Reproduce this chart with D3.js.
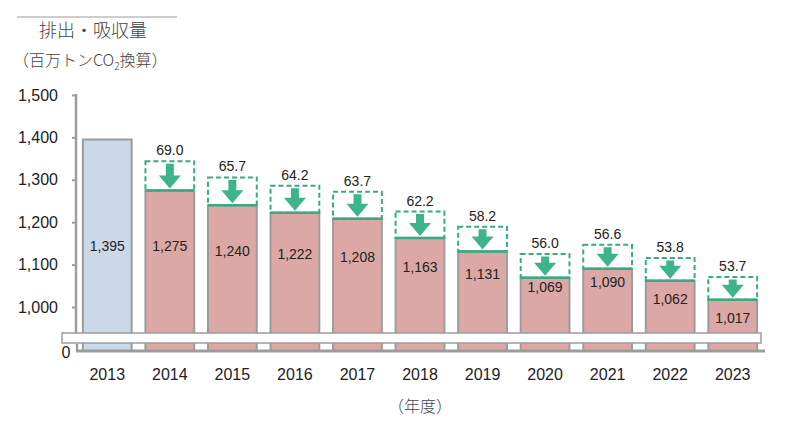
<!DOCTYPE html>
<html>
<head>
<meta charset="utf-8">
<script src="https://cdn.jsdelivr.net/npm/d3@7"></script>
<style>
    body { margin: 0; background: #fff; }
    svg text { font-family: "Liberation Sans", "Noto Sans CJK JP", sans-serif; fill: #222; }
    .jp { font-family: "Noto Sans CJK JP", sans-serif; font-weight: 300; fill: #444; }
</style>
</head>
<body>
<script>
const years = ["2013", "2014", "2015", "2016", "2017", "2018", "2019", "2020", "2021", "2022", "2023"]
const emissions = [1395, 1275, 1240, 1222, 1208, 1163, 1131, 1069, 1090, 1062, 1017]
const reductions = [null, 69.0, 65.7, 64.2, 63.7, 62.2, 58.2, 56.0, 56.6, 53.8, 53.7]
const yTicks = [1000, 1100, 1200, 1300, 1400, 1500]

const WIDTH = 787
const HEIGHT = 421

const ZERO_Y = 351
const BREAK = { top: 333, bottom: 343 }

const GREEN = "#3aaa82"
const GREY = "#9c9c9c"

const svg = d3.select("body")
    .append("svg")
    .attr("width", WIDTH)
    .attr("height", HEIGHT)

const xScale = d3.scaleBand()
    .domain(years)
    .range([76, 764])
    .paddingInner(0.22)
    .paddingOuter(0.11)

const yScale = d3.scaleLinear()
    .domain([1000, 1500])
    .range([307, 95])

const data = years.map((y, i) => ({ year: y, value: emissions[i], cut: reductions[i] }))

// title block
svg.append("line")
    .attr("x1", 17).attr("x2", 177)
    .attr("y1", 17).attr("y2", 17)
    .attr("stroke", "#bdbdbd")
    .attr("stroke-width", 1.5)

svg.append("text")
    .attr("class", "jp")
    .attr("x", 39)
    .attr("y", 37)
    .style("font-size", "18px")
    .text("排出・吸収量")

const sub = svg.append("text")
    .attr("class", "jp")
    .attr("x", 13)
    .attr("y", 66)
    .style("font-size", "16px")
sub.append("tspan").text("（百万トンCO")
sub.append("tspan").attr("dy", 4).style("font-size", "10px").text("2")
sub.append("tspan").attr("dy", -4).text("換算）")

// bars
svg.selectAll("rect.bar")
    .data(data)
    .enter()
    .append("rect")
    .attr("class", "bar")
    .attr("x", d => xScale(d.year))
    .attr("y", d => yScale(d.value))
    .attr("width", xScale.bandwidth())
    .attr("height", d => ZERO_Y - yScale(d.value))
    .attr("fill", (d, i) => i === 0 ? "#cbd8e8" : "#dca8a5")
    .attr("stroke", GREY)
    .attr("stroke-width", 2)

// bar value labels
svg.selectAll("text.val")
    .data(data)
    .enter()
    .append("text")
    .attr("class", "val")
    .attr("x", d => xScale(d.year) + xScale.bandwidth() / 2)
    .attr("y", d => {
        const top = yScale(d.value)
        let y = Math.max((top + 296) / 2, 246)
        if (y < top + 8) y = top + 18
        return y
    })
    .attr("dy", "0.35em")
    .attr("text-anchor", "middle")
    .style("font-size", "14px")
    .text(d => d3.format(",")(d.value))

// reduction boxes
const cuts = data.filter(d => d.cut !== null)

svg.selectAll("rect.cut")
    .data(cuts)
    .enter()
    .append("rect")
    .attr("class", "cut")
    .attr("x", d => xScale(d.year))
    .attr("y", d => yScale(d.value + d.cut))
    .attr("width", xScale.bandwidth())
    .attr("height", d => yScale(d.value) - yScale(d.value + d.cut))
    .attr("fill", "none")
    .attr("stroke", GREEN)
    .attr("stroke-width", 2)
    .attr("stroke-dasharray", "5,3")

svg.selectAll("line.cutbase")
    .data(cuts)
    .enter()
    .append("line")
    .attr("class", "cutbase")
    .attr("x1", d => xScale(d.year))
    .attr("x2", d => xScale(d.year) + xScale.bandwidth())
    .attr("y1", d => yScale(d.value))
    .attr("y2", d => yScale(d.value))
    .attr("stroke", GREEN)
    .attr("stroke-width", 2.5)

// arrows
svg.selectAll("path.arrow")
    .data(cuts)
    .enter()
    .append("path")
    .attr("class", "arrow")
    .attr("fill", "#3db489")
    .attr("d", d => {
        const cx = xScale(d.year) + xScale.bandwidth() / 2
        const top = yScale(d.value + d.cut) + 2.5
        const tip = yScale(d.value) - 2
        const headTop = tip - 13
        const sw = 4, hw = 11
        return "M" + (cx - sw) + "," + top +
            "L" + (cx + sw) + "," + top +
            "L" + (cx + sw) + "," + headTop +
            "L" + (cx + hw) + "," + headTop +
            "L" + cx + "," + tip +
            "L" + (cx - hw) + "," + headTop +
            "L" + (cx - sw) + "," + headTop + "Z"
    })

svg.selectAll("text.cutval")
    .data(cuts)
    .enter()
    .append("text")
    .attr("class", "cutval")
    .attr("x", d => xScale(d.year) + xScale.bandwidth() / 2)
    .attr("y", d => yScale(d.value + d.cut) - 6)
    .attr("text-anchor", "middle")
    .style("font-size", "14px")
    .text(d => d3.format(".1f")(d.cut))

// axis break band
svg.append("rect")
    .attr("x", 62)
    .attr("y", BREAK.top)
    .attr("width", 699)
    .attr("height", BREAK.bottom - BREAK.top)
    .attr("fill", "#fff")
    .attr("stroke", GREY)
    .attr("stroke-width", 1.5)

// zero line
svg.append("line")
    .attr("x1", 76).attr("x2", 765)
    .attr("y1", ZERO_Y).attr("y2", ZERO_Y)
    .attr("stroke", GREY)
    .attr("stroke-width", 3)

svg.append("line")
    .attr("x1", 77).attr("x2", 77)
    .attr("y1", BREAK.bottom + 0.75).attr("y2", ZERO_Y)
    .attr("stroke", GREY)
    .attr("stroke-width", 2.5)

svg.append("text")
    .attr("x", 66)
    .attr("y", ZERO_Y + 1)
    .attr("dy", "0.35em")
    .attr("text-anchor", "middle")
    .style("font-size", "16px")
    .text("0")

// y axis
const yAxis = d3.axisLeft(yScale)
    .tickValues(yTicks)
    .tickSize(4)
    .tickPadding(14)
    .tickFormat(d3.format(","))

const yG = svg.append("g")
    .attr("transform", "translate(76, 0)")
    .call(yAxis)

yG.select(".domain").remove()
yG.append("line")
    .attr("x1", 0).attr("x2", 0)
    .attr("y1", yScale(1500) - 1).attr("y2", BREAK.top)
    .attr("stroke", GREY)
    .attr("stroke-width", 2.5)
yG.selectAll(".tick line")
    .attr("stroke", GREY)
    .attr("stroke-width", 2)
yG.selectAll(".tick text")
    .style("font-size", "16px")
    .style("font-family", "'Liberation Sans', sans-serif")
    .attr("fill", "#222")

// x labels
svg.selectAll("text.year")
    .data(years)
    .enter()
    .append("text")
    .attr("class", "year")
    .attr("x", d => xScale(d) + xScale.bandwidth() / 2)
    .attr("y", 380)
    .attr("text-anchor", "middle")
    .style("font-size", "16px")
    .text(d => d)

svg.append("text")
    .attr("class", "jp")
    .attr("x", 420)
    .attr("y", 412)
    .attr("text-anchor", "middle")
    .style("font-size", "16px")
    .text("（年度）")
</script>
</body>
</html>
